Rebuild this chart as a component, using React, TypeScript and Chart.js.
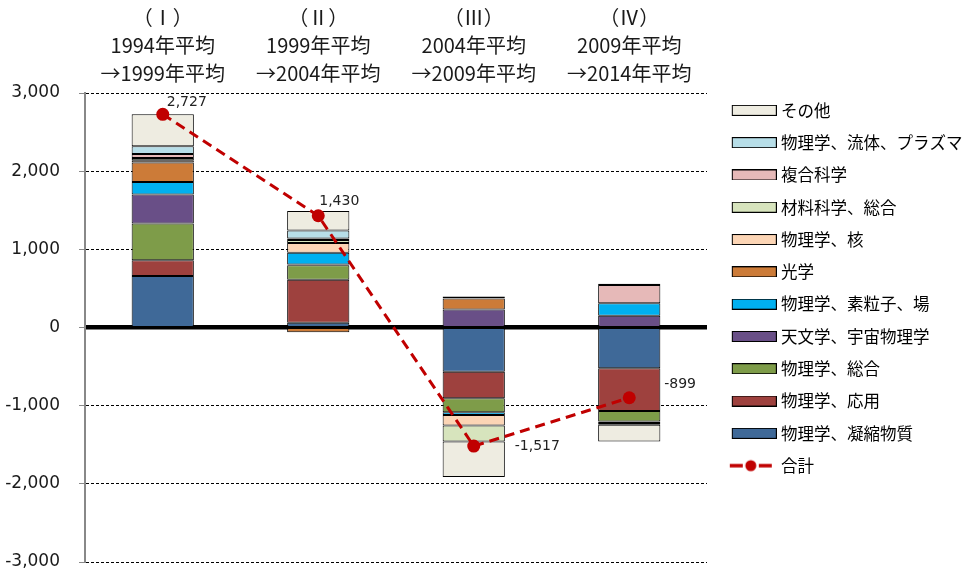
import React, { useEffect, useRef } from 'react';
import { Chart, registerables } from 'chart.js';

Chart.register(...registerables);

// ---- data ----
const categories: string[][] = [
  ['（Ⅰ）', '1994年平均', '→1999年平均'],
  ['（Ⅱ）', '1999年平均', '→2004年平均'],
  ['（Ⅲ）', '2004年平均', '→2009年平均'],
  ['（Ⅳ）', '2009年平均', '→2014年平均'],
];

const condensedMatter = [660, 60, -565, -522];
const applied = [200, 550, -340, -545];
const physicsGeneral = [470, 185, -180, -136];
const astronomy = [370, 10, 230, 150];
const particles = [160, 150, -35, 160];
const optics = [250, -60, 140, 0];
const nuclear = [30, 125, -135, -20];
const materials = [30, 40, -205, -20];
const multidisciplinary = [50, 20, 5, 235];
const fluids = [100, 100, 20, 14];
const others = [407, 250, -452, -215];
const total = [2727, 1430, -1517, -899];

const barSeries = [
  { label: '物理学、凝縮物質', values: condensedMatter },
  { label: '物理学、応用', values: applied },
  { label: '物理学、総合', values: physicsGeneral },
  { label: '天文学、宇宙物理学', values: astronomy },
  { label: '物理学、素粒子、場', values: particles },
  { label: '光学', values: optics },
  { label: '物理学、核', values: nuclear },
  { label: '材料科学、総合', values: materials },
  { label: '複合科学', values: multidisciplinary },
  { label: '物理学、流体、プラズマ', values: fluids },
  { label: 'その他', values: others },
];
const totalLabel = '合計';

const barColors = [
  '#3F6998', '#9E413E', '#7E9C49', '#694F87', '#00B0F0', '#CC7B38',
  '#FCD5B5', '#D7E4BD', '#E6B9B8', '#B7DEE8', '#EEECE1',
];
const lineColor = '#C00000';

// label offsets for the total values (style, not data)
const labelOffsets: [number, number][] = [[4, -12], [1, -14], [41, 0], [35, -13]];

const LATIN_CJK = "'DejaVu Sans', 'Noto Sans CJK JP'";
const CJK = "'Noto Sans CJK JP', 'DejaVu Sans'";

function makeBoxImage(color: string): HTMLCanvasElement {
  const c = document.createElement('canvas');
  c.width = 58;
  c.height = 11;
  const g = c.getContext('2d')!;
  g.fillStyle = color;
  g.fillRect(13.5, 0.5, 44, 10);
  g.strokeStyle = '#000';
  g.lineWidth = 1;
  g.strokeRect(13.5, 0.5, 44, 10);
  return c;
}

function makeLineImage(color: string): HTMLCanvasElement {
  const c = document.createElement('canvas');
  c.width = 58;
  c.height = 14;
  const g = c.getContext('2d')!;
  g.strokeStyle = color;
  g.lineWidth = 3.5;
  g.beginPath();
  g.moveTo(11, 7);
  g.lineTo(24, 7);
  g.moveTo(40, 7);
  g.lineTo(53, 7);
  g.stroke();
  g.fillStyle = color;
  g.beginPath();
  g.arc(32, 7, 5.5, 0, Math.PI * 2);
  g.fill();
  return c;
}

const totalLabelsPlugin = {
  id: 'totalLabels',
  afterDatasetsDraw(chart: any) {
    const meta = chart.getDatasetMeta(0);
    const ctx = chart.ctx;
    ctx.save();
    ctx.font = `14px ${LATIN_CJK}`;
    ctx.fillStyle = '#222';
    ctx.textAlign = 'left';
    ctx.textBaseline = 'middle';
    meta.data.forEach((pt: any, i: number) => {
      const [dx, dy] = labelOffsets[i];
      ctx.fillText(total[i].toLocaleString('en-US'), pt.x + dx, pt.y + dy);
    });
    ctx.restore();
  },
};

export default function App() {
  const canvasRef = useRef<HTMLCanvasElement | null>(null);

  useEffect(() => {
    if (!canvasRef.current) return;
    const images: HTMLCanvasElement[] = [makeLineImage(lineColor), ...barColors.map(makeBoxImage)];

    const datasets: any[] = [
      {
        type: 'line',
        label: totalLabel,
        data: total,
        stack: 'line',
        borderColor: lineColor,
        backgroundColor: lineColor,
        borderWidth: 3,
        borderDash: [10, 6],
        pointRadius: 6.5,
        pointBackgroundColor: lineColor,
        pointBorderColor: lineColor,
        pointBorderWidth: 0,
        fill: false,
        tension: 0,
      },
      ...barSeries.map((s, i) => ({
        type: 'bar',
        label: s.label,
        data: s.values,
        stack: 'bars',
        backgroundColor: barColors[i],
        borderColor: '#000',
        borderWidth: 1,
        borderSkipped: false,
        barPercentage: 0.4,
        categoryPercentage: 1.0,
      })),
    ];

    const chart = new Chart(canvasRef.current, {
      type: 'bar',
      data: { labels: categories as any, datasets },
      options: {
        animation: false,
        responsive: true,
        maintainAspectRatio: false,
        layout: { padding: { top: 0, bottom: 0, left: 0, right: 0 } },
        plugins: {
          tooltip: { enabled: false },
          legend: {
            position: 'right',
            reverse: true,
            maxWidth: 261,
            labels: {
              usePointStyle: true,
              pointStyleWidth: 50,
              padding: 15.8,
              color: '#1a1a1a',
              font: { family: CJK, size: 16.5 },
              generateLabels: (ch: any) =>
                ch.data.datasets.map((ds: any, i: number) => ({
                  text: ds.label,
                  datasetIndex: i,
                  pointStyle: images[i],
                  rotation: 0,
                  hidden: false,
                  fillStyle: 'rgba(0,0,0,0)',
                  strokeStyle: 'rgba(0,0,0,0)',
                  lineWidth: 0,
                })),
            },
          },
        },
        scales: {
          x: {
            position: 'top',
            stacked: true,
            offset: true,
            grid: { display: false, drawTicks: false },
            border: { display: false },
            ticks: {
              padding: 6,
              color: '#1a1a1a',
              maxRotation: 0,
              autoSkip: false,
              font: { family: CJK, size: 20, lineHeight: 1.4 },
            },
            afterFit: (s: any) => {
              s.height = 93;
            },
          },
          y: {
            position: 'left',
            stacked: true,
            min: -3000,
            max: 3000,
            ticks: {
              stepSize: 1000,
              padding: 19,
              color: '#1a1a1a',
              font: { family: LATIN_CJK, size: 17 },
              callback: (v: any) => Number(v).toLocaleString('en-US'),
            },
            grid: {
              color: (c: any) => (c.tick && c.tick.value === 0 ? 'rgba(0,0,0,0)' : '#000'),
              lineWidth: 1,
              tickLength: 6,
              tickColor: '#888',
              tickWidth: 1,
            },
            border: { display: true, color: '#888', width: 2, dash: [3, 2] },
            afterFit: (s: any) => {
              s.width = 85;
              s.paddingTop = 10;
              s.paddingBottom = 14;
            },
          },
          yz: {
            position: 'left',
            min: -3000,
            max: 3000,
            z: 1,
            ticks: { display: false, stepSize: 1000 },
            grid: {
              drawTicks: false,
              color: (c: any) => (c.tick && c.tick.value === 0 ? '#000' : 'rgba(0,0,0,0)'),
              lineWidth: 4.5,
            },
            border: { display: false },
            afterFit: (s: any) => {
              s.width = 0;
              s.paddingTop = 0;
              s.paddingBottom = 0;
            },
          },
        },
      } as any,
      plugins: [totalLabelsPlugin],
    });

    return () => {
      chart.destroy();
    };
  }, []);

  return (
    <div style={{ position: 'absolute', left: 0, top: 0, width: 968, height: 576, background: '#fff' }}>
      <canvas ref={canvasRef} />
    </div>
  );
}
